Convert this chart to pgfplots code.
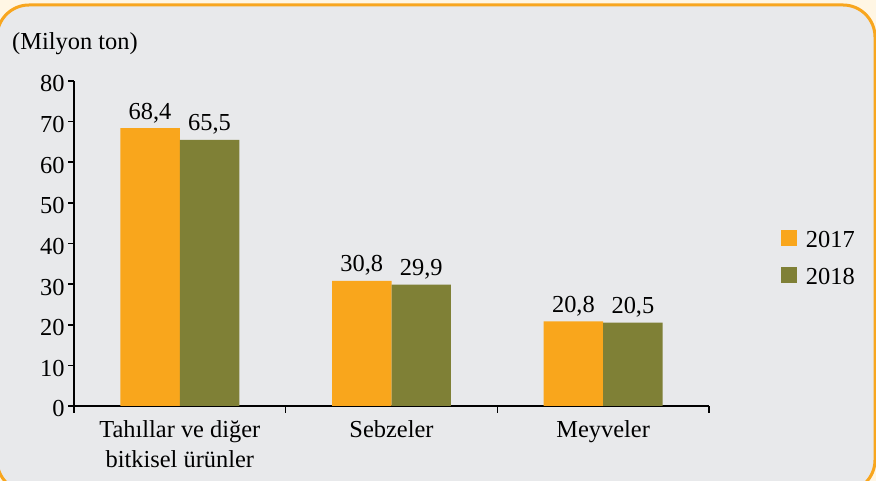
\documentclass[border=0pt]{standalone}
\usepackage{pgfplots}
\pgfplotsset{compat=1.18}
\usepackage{fontspec}
\setmainfont{Liberation Serif}
\definecolor{barorange}{RGB}{249,166,28}
\definecolor{barolive}{RGB}{127,128,54}
\definecolor{bggray}{RGB}{232,233,235}
\definecolor{cream}{RGB}{255,246,228}
\definecolor{bordor}{RGB}{248,166,30}
\begin{document}
\begin{tikzpicture}[x=1bp,y=1bp]
\useasboundingbox (0,0) rectangle (876,481);
\begin{scope}
\clip (0,0) rectangle (876,481);
\fill[cream] (0,0) rectangle (876,481);
\draw[bordor, line width=3bp, fill=bggray, rounded corners=32bp] (-3,-11) rectangle (875,476);
\end{scope}
\node[anchor=base west, inner sep=0pt, font=\fontsize{24.5}{29}\selectfont] at (12,431) {(Milyon ton)};
\begin{axis}[
  scale only axis,
  width=635bp, height=325bp,
  at={(74bp,75bp)}, anchor=south west,
  xmin=-0.5, xmax=2.5, ymin=0, ymax=80,
  axis x line*=bottom, axis y line*=left,
  axis line style={line width=1.6bp, black},
  ybar=0pt, bar width=0.281,
  xtick={0,1,2},
  xticklabels={{Tahıllar ve diğer\\bitkisel ürünler},Sebzeler,Meyveler},
  minor xtick={-0.5,0.5,1.5,2.5},
  major x tick style={draw=none},
  ytick={0,10,...,80},
  tick align=outside,
  major tick length=6bp, minor tick length=7bp,
  every tick/.style={black, line width=1.6bp},
  /pgf/number format/assume math mode=true,
  tick label style={font=\fontsize{24.5}{30}\selectfont},
  xticklabel style={align=center, yshift=-5bp},
  yticklabel style={yshift=-3bp},
  nodes near coords={\pgfmathprintnumber[fixed,fixed zerofill,precision=1,use comma,assume math mode=true]{\pgfplotspointmeta}},
  every node near coord/.append style={anchor=base, yshift=9bp, inner sep=0pt, font=\fontsize{24.5}{29}\selectfont, black},
  legend style={draw=none, fill=none, at={(1.113,0.545)}, anchor=north west,
    font=\fontsize{24.5}{29}\selectfont, row sep=15bp, inner sep=0pt,
    /tikz/every odd column/.append style={column sep=7bp}},
  legend image code/.code={\fill[#1] (0bp,-6bp) rectangle (16bp,10bp);},
]
\addplot[fill=barorange, draw=none] coordinates {(0,68.4) (1,30.8) (2,20.8)};
\addplot[fill=barolive, draw=none] coordinates {(0,65.5) (1,29.9) (2,20.5)};
\legend{2017,2018}
\end{axis}
\end{tikzpicture}
\end{document}
